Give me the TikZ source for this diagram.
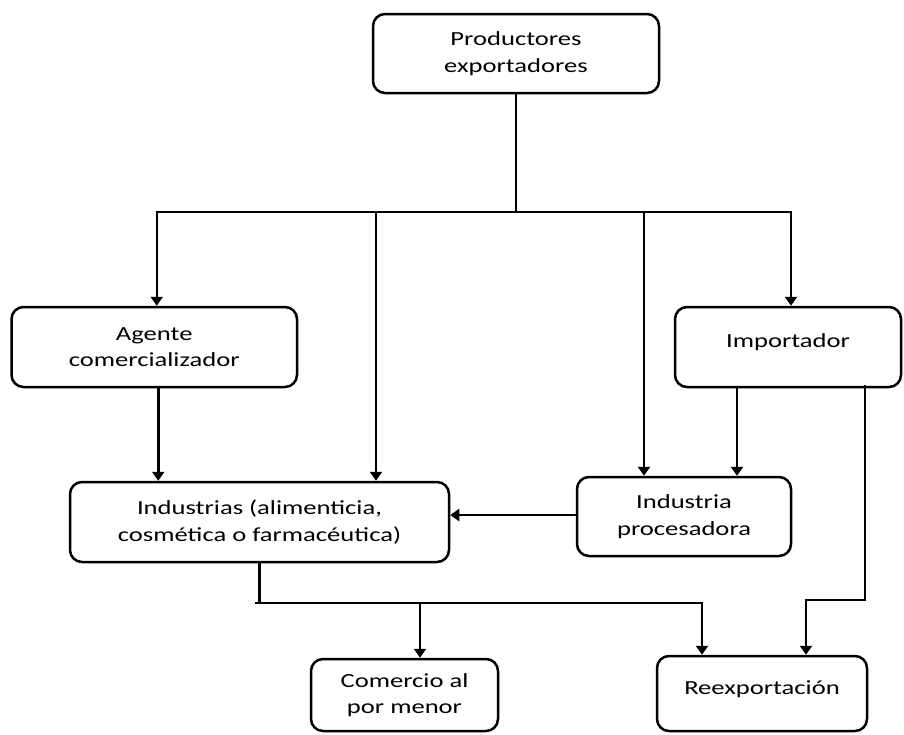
\documentclass[tikz,border=0pt]{standalone}
\usepackage{fontspec}
\setmainfont{Carlito}[FakeStretch=1.33]
\usetikzlibrary{arrows.meta,calc}
\begin{document}
\begin{tikzpicture}[x=1pt,y=-1pt,line width=2.5pt,
  box/.style={draw, rounded corners=12pt, align=center, inner sep=0pt,
              font=\fontsize{20}{26.5}\selectfont},
  arr/.style={-{Triangle[length=9pt,width=12pt]}}]
\useasboundingbox (0,0) rectangle (904,734);

\node[box, minimum width=286pt, minimum height=79pt] (P) at (516,53.5) {Productores\\exportadores};
\node[box, minimum width=285.5pt, minimum height=80pt] (A) at (154.25,347) {Agente\\comercializador};
\node[box, minimum width=226pt, minimum height=80pt, text depth=13pt] (I) at (788,347) {Importador};
\node[box, minimum width=379pt, minimum height=80pt] (N) at (259.5,522) {Industrias (alimenticia,\\cosmética o farmacéutica)};
\node[box, minimum width=214pt, minimum height=79pt] (Q) at (684,516.5) {Industria\\procesadora};
\node[box, minimum width=187pt, minimum height=72pt] (C) at (404.5,695) {Comercio al\\por menor};
\node[box, minimum width=210pt, minimum height=75pt, text depth=12pt] (R) at (762,693.5) {Reexportación};

% distribution bus from producers
\coordinate (bus) at (516,212);
\draw (P.south) -- (bus);
\draw[arr] (bus) -| ([xshift=2.5pt]A.north);
\draw[arr] (bus) -| ([xshift=116.5pt]N.north);
\draw[arr] (bus) -| ([xshift=-40pt]Q.north);
\draw[arr] (bus) -| ([xshift=3pt]I.north);

% middle level
\draw[arr] ([xshift=4pt]A.south) -- ([xshift=4pt]A.south |- N.north);
\draw[arr] ([xshift=-51pt]I.south) -- ([xshift=-51pt]I.south |- Q.north);
\draw[arr] (Q.west |- 0,515) -- (N.east |- 0,515);

% importer to re-export
\coordinate (rj) at (806,600);
\draw[arr] ([xshift=77pt,yshift=3pt]I.south) |- (rj) -- (rj |- R.north);

% industries to retail and re-export
\coordinate (cj) at (259.5,603);
\coordinate (cb) at (420,603);
\draw (N.south) -- (cj);
\draw[arr] ([xshift=-5pt]cj) -| ([xshift=-60pt]R.north);
\draw[arr] (cb) -- (cb |- C.north);
\end{tikzpicture}
\end{document}
